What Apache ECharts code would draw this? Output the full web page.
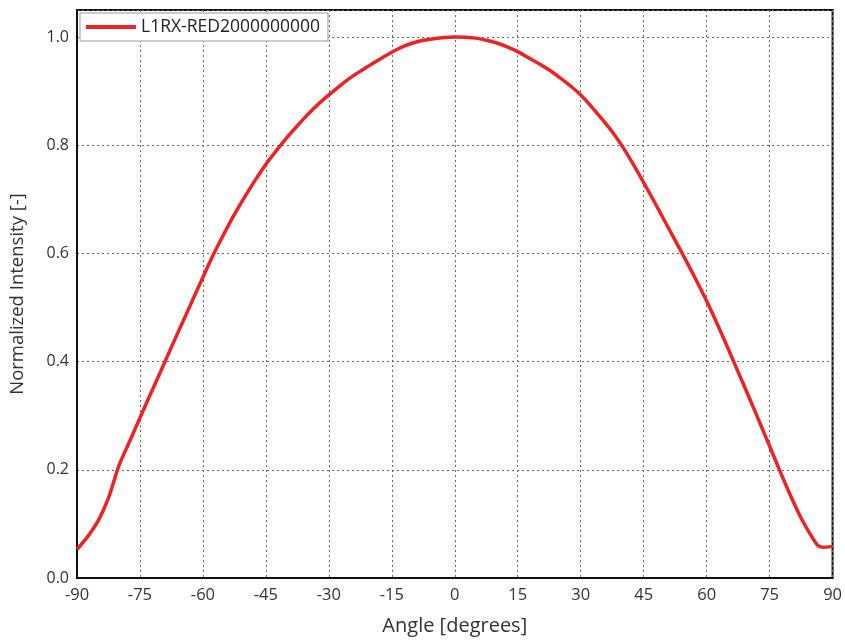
<!DOCTYPE html>
<html>
<head>
<meta charset="utf-8">
<script src="https://cdn.jsdelivr.net/npm/echarts@6/dist/echarts.min.js"></script>
<style>html,body{margin:0;padding:0;background:#fff;}#c{width:845px;height:644px;}</style>
</head>
<body>
<div id="c"></div>
<script>
var seriesName = 'L1RX-RED2000000000';
var angles = [-90,-87.5,-85,-82.5,-80,-77.5,-75,-72.5,-70,-67.5,-65,-62.5,-60,-57.5,-55,-52.5,-50,-47.5,-45,-42.5,-40,-37.5,-35,-32.5,-30,-27.5,-25,-22.5,-20,-17.5,-15,-12.5,-10,-7.5,-5,-2.5,0,2.5,5,7.5,10,12.5,15,17.5,20,22.5,25,27.5,30,32.5,35,37.5,40,42.5,45,47.5,50,52.5,55,57.5,60,62.5,65,67.5,70,72.5,75,77.5,80,82.5,85,86.5,87.5,90];
var intensity = [0.053,0.076,0.105,0.148,0.208,0.252,0.296,0.340,0.383,0.427,0.470,0.513,0.556,0.598,0.636,0.672,0.705,0.736,0.765,0.790,0.814,0.836,0.857,0.876,0.893,0.909,0.924,0.937,0.949,0.961,0.972,0.982,0.989,0.994,0.997,0.9993,1.0,0.9995,0.998,0.994,0.989,0.982,0.973,0.962,0.951,0.939,0.925,0.910,0.893,0.872,0.849,0.825,0.797,0.765,0.731,0.696,0.660,0.624,0.588,0.551,0.512,0.470,0.426,0.381,0.336,0.290,0.244,0.197,0.152,0.111,0.077,0.060,0.057,0.058];
var xTicks = [-90,-75,-60,-45,-30,-15,0,15,30,45,60,75,90];
var yTicks = [0,0.2,0.4,0.6,0.8,1.0];

var pts = angles.map(function(a,i){return [a,intensity[i]];});
var chart = echarts.init(document.getElementById('c'), null, {renderer:'canvas'});
var font = '"Open Sans", "Noto Sans", sans-serif';
chart.setOption({
  animation:false,
  backgroundColor:'#fff',
  textStyle:{fontFamily:font},
  grid:{left:77,right:12,top:10,bottom:66,show:true,borderColor:'#111',borderWidth:2,backgroundColor:'transparent'},
  legend:{
    left:80,top:13,orient:'horizontal',
    backgroundColor:'#fff',borderColor:'#999',borderWidth:1,borderRadius:0,
    padding:[5,8,5,6],itemWidth:50,itemHeight:4,itemGap:8,
    icon:'rect',
    textStyle:{fontFamily:font,fontSize:17.5,color:'#222'},
    data:[{name:seriesName,icon:'rect'}]
  },
  xAxis:{
    type:'value',min:-90,max:90,interval:15,
    name:'Angle [degrees]',nameLocation:'middle',nameGap:38,
    nameTextStyle:{fontFamily:font,fontSize:20,color:'#333'},
    axisLine:{show:true,onZero:false,lineStyle:{color:'#111',width:2}},
    axisTick:{show:false},
    axisLabel:{fontFamily:font,fontSize:16.5,color:'#333',margin:9,
      formatter:function(v){return xTicks.indexOf(v)>=0?String(v):'';}},
    splitLine:{show:true,lineStyle:{color:'#666',type:[2,3],width:1}}
  },
  yAxis:{
    type:'value',min:0,max:1.05,interval:0.2,
    name:'Normalized Intensity [-]',nameLocation:'middle',nameGap:50,
    nameTextStyle:{fontFamily:font,fontSize:18.5,color:'#333'},
    axisLine:{show:true,onZero:false,lineStyle:{color:'#111',width:2}},
    axisTick:{show:false},
    axisLabel:{fontFamily:font,fontSize:16,color:'#333',margin:8,showMaxLabel:false,
      formatter:function(v){
        for(var i=0;i<yTicks.length;i++){if(Math.abs(v-yTicks[i])<1e-6)return yTicks[i].toFixed(1);}
        return '';
      }},
    splitLine:{show:true,lineStyle:{color:'#666',type:[2,3],width:1}}
  },
  series:[{
    name:seriesName,type:'line',data:pts,smooth:0.25,showSymbol:false,
    lineStyle:{color:'#ee2222',width:3.5},itemStyle:{color:'#ee2222'},
    z:3
  }]
});
</script>
</body>
</html>
